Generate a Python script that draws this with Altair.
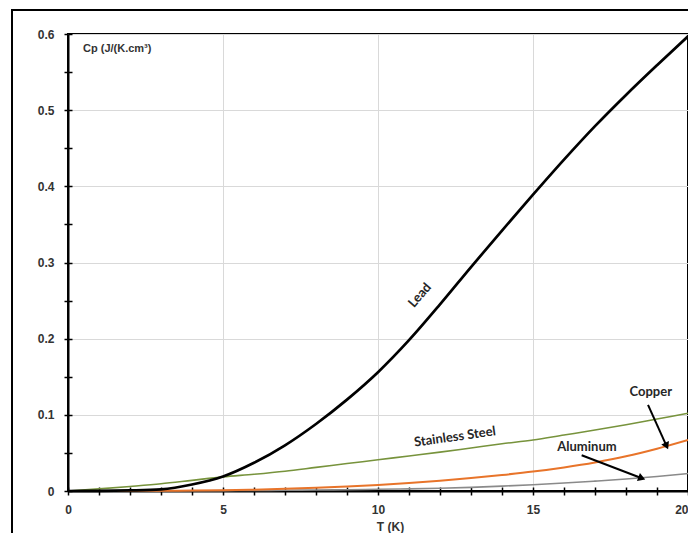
import altair as alt
import pandas as pd
import numpy as np

# ---- data ----
T = list(range(21))
lead = [0, 0.0001, 0.0007, 0.0022, 0.0085, 0.019, 0.037, 0.060, 0.088, 0.120, 0.156,
        0.198, 0.245, 0.294, 0.342, 0.389, 0.435, 0.479, 0.520, 0.559, 0.597]
steel = [0, 0.0028, 0.006, 0.0095, 0.014, 0.0185, 0.022, 0.026, 0.031, 0.036, 0.041,
         0.046, 0.051, 0.0565, 0.062, 0.067, 0.0735, 0.080, 0.087, 0.0945, 0.102]
copper = [0, 0, 0.0001, 0.0003, 0.0006, 0.001, 0.0018, 0.0029, 0.0043, 0.006, 0.008,
          0.0105, 0.0135, 0.017, 0.021, 0.0255, 0.031, 0.0375, 0.0455, 0.0555, 0.067]
aluminum = [0, 0, 0.0001, 0.0002, 0.0003, 0.0005, 0.0007, 0.001, 0.0013, 0.0017, 0.0022,
            0.0028, 0.0036, 0.0048, 0.0064, 0.0083, 0.0105, 0.013, 0.0157, 0.019, 0.023]

series_names = ["Aluminum", "Copper", "Stainless Steel", "Lead"]
series_values = [aluminum, copper, steel, lead]
series_colors = ["#8a8a8a", "#e8742a", "#77933c", "#000000"]
series_widths = [1.6, 2.0, 1.6, 2.7]

# annotation labels (text, T, Cp, angle)
label_text = ["Lead", "Stainless Steel", "Copper", "Aluminum"]
label_t = [11.35, 12.48, 18.8, 16.74]
label_v = [0.257, 0.071, 0.130, 0.058]
label_angle = [311, 352, 0, 0]

# arrows (from -> to)
arrow_t0 = [18.71, 16.57]
arrow_v0 = [0.113, 0.047]
arrow_t1 = [19.31, 18.51]
arrow_v1 = [0.059, 0.0167]

x_ticks = list(range(0, 21))
y_ticks = [round(i * 0.05, 2) for i in range(13)]

W, H = 620, 457
x_dom = [0, 20]
y_dom = [0, 0.6]

# ---- tables ----
rows = []
for name, vals in zip(series_names, series_values):
    for t, v in zip(T, vals):
        rows.append({"T": t, "Cp": v, "series": name})
df = pd.DataFrame(rows)

lab_df = pd.DataFrame({"text": label_text, "T": label_t, "Cp": label_v, "angle": label_angle})

px_per_x = W / (x_dom[1] - x_dom[0])
px_per_y = H / (y_dom[1] - y_dom[0])
angles = []
for a, b, c, d in zip(arrow_t0, arrow_v0, arrow_t1, arrow_v1):
    dx = (c - a) * px_per_x
    dy = -(d - b) * px_per_y  # screen y goes down
    ang = np.degrees(np.arctan2(dx, -dy)) % 360
    angles.append(float(ang))
arr_df = pd.DataFrame({"T0": arrow_t0, "V0": arrow_v0, "T1": arrow_t1, "V1": arrow_v1, "ang": angles})

xs = alt.Scale(domain=x_dom, nice=False, zero=False)
ys = alt.Scale(domain=y_dom, nice=False, zero=False)

x_major = "datum.value % 5 === 0"
y_major = "round(datum.value * 100) % 10 === 0"

tick_font = "Liberation Sans"
ann_font = "Lato"

x_axis_main = alt.Axis(
    values=x_ticks, title="T (K)",
    labelExpr=f"{x_major} ? datum.label : ''",
    labelAlign={"condition": {"test": "datum.value === 20", "value": "right"}, "value": "center"},
    grid=True, gridColor="#d9d9d9", gridWidth=1,
    gridOpacity={"condition": {"test": x_major, "value": 1}, "value": 0},
    domainColor="black", domainWidth=2,
    tickColor="black", tickWidth=1.5, tickSize=4,
    labelFont=tick_font, labelFontWeight="bold", labelFontSize=12, labelColor="#333333",
    labelPadding=9, labelFlush=False,
    titleFont=tick_font, titleFontWeight="bold", titleFontSize=12, titleColor="#333333",
    titleX=322, titleY=35, titleBaseline="middle", titleAlign="center",
    orient="bottom",
)
y_axis_main = alt.Axis(
    values=y_ticks, title=None,
    labelExpr=f"{y_major} ? (datum.value === 0 ? '0' : format(datum.value, '.1f')) : ''",
    grid=True, gridColor="#d9d9d9", gridWidth=1,
    gridOpacity={"condition": {"test": y_major, "value": 1}, "value": 0},
    domainColor="black", domainWidth=2,
    tickColor="black", tickWidth=1.5, tickSize=4,
    labelFont=tick_font, labelFontWeight="bold", labelFontSize=12, labelColor="#333333",
    labelPadding=10, labelFlush=False,
    orient="left",
)
x_axis_in = alt.Axis(values=x_ticks, labels=False, domain=False, grid=False, title=None,
                     tickColor="black", tickWidth=1.5, tickSize=4, offset=-4, orient="bottom")
y_axis_in = alt.Axis(values=y_ticks, labels=False, domain=False, grid=False, title=None,
                     tickColor="black", tickWidth=1.5, tickSize=4, offset=-4, orient="left")

layers = []
for i, (name, col, w) in enumerate(zip(series_names, series_colors, series_widths)):
    xa = x_axis_main if i == 0 else None
    ya = y_axis_main if i == 0 else None
    layers.append(
        alt.Chart(df).transform_filter(alt.datum.series == name)
        .mark_line(color=col, strokeWidth=w, interpolate="monotone")
        .encode(x=alt.X("T:Q", scale=xs, axis=xa), y=alt.Y("Cp:Q", scale=ys, axis=ya))
    )

# invisible layer carrying the inward half of the ticks
ticks_in = alt.Chart(df).mark_line(opacity=0).encode(
    x=alt.X("T:Q", scale=xs, axis=x_axis_in),
    y=alt.Y("Cp:Q", scale=ys, axis=y_axis_in),
    detail="series:N",
)

labels = alt.Chart(lab_df).mark_text(
    font=ann_font, fontWeight="bold", fontSize=13, color="#262626", align="center", baseline="middle"
).encode(
    x=alt.X("T:Q", scale=xs, axis=None), y=alt.Y("Cp:Q", scale=ys, axis=None),
    text="text:N", angle=alt.Angle("angle:Q", scale=None),
)

arrow_lines = alt.Chart(arr_df).mark_rule(color="black", strokeWidth=2).encode(
    x=alt.X("T0:Q", scale=xs, axis=None), y=alt.Y("V0:Q", scale=ys, axis=None),
    x2="T1:Q", y2="V1:Q",
)
arrow_heads = alt.Chart(arr_df).mark_point(
    shape="triangle-up", filled=True, color="black", size=70, opacity=1
).encode(
    x=alt.X("T1:Q", scale=xs, axis=None), y=alt.Y("V1:Q", scale=ys, axis=None),
    angle=alt.Angle("ang:Q", scale=None),
)

cp_label = alt.Chart(pd.DataFrame({"t": ["Cp (J/(K.cm³)"]})).mark_text(
    font=tick_font, fontWeight="bold", fontSize=11, color="#333333", align="left", baseline="middle"
).encode(x=alt.value(15), y=alt.value(15), text="t:N")

frame = alt.Chart(pd.DataFrame({"a": [0]})).mark_rect(
    fillOpacity=0, stroke="black", strokeWidth=2
).encode(x=alt.value(-56), x2=alt.value(720), y=alt.value(-24), y2=alt.value(560))

chart = alt.layer(
    *layers, ticks_in, labels, arrow_lines, arrow_heads, cp_label, frame
).resolve_axis(x="independent", y="independent").properties(
    width=W, height=H,
    autosize=alt.AutoSizeParams(type="none"),
    padding={"left": 60, "top": 26, "right": 0, "bottom": 42},
    background="white",
).configure_view(stroke="black", strokeWidth=2)

chart.save("out.html", embed_options={"renderer": "svg", "actions": False})
